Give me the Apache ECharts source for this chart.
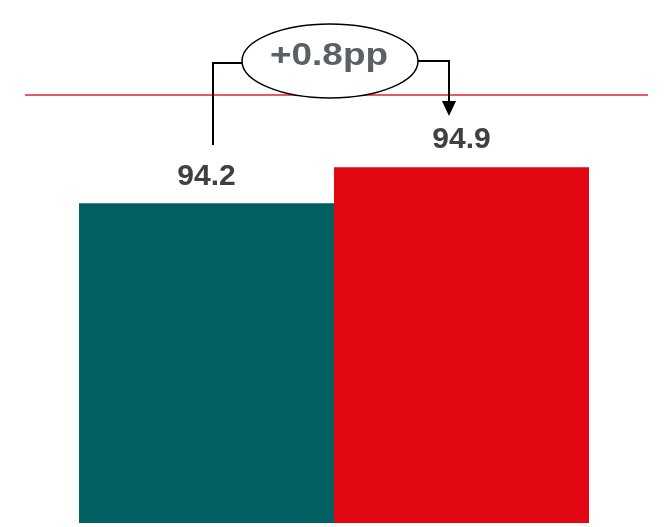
<!DOCTYPE html>
<html>
<head>
<meta charset="utf-8">
<script src="https://cdn.jsdelivr.net/npm/echarts@6/dist/echarts.min.js"></script>
<style>
  html, body { margin: 0; padding: 0; background: #fff; }
  #chart { width: 664px; height: 527px; }
</style>
</head>
<body>
<div id="chart"></div>
<script>
// datos del gráfico
const categories = ["Anterior", "Actual"];
const values = [94.2, 94.9];
const barColors = ["#025f62", "#e30613"];
const targetValue = 96.3;
const deltaText = "+0.8pp";
const yMin = 88;
const yMax = 96.3;

const chart = echarts.init(document.getElementById("chart"));

const option = {
  animation: false,
  grid: { left: 79, right: 75, top: 95, bottom: 4 },
  xAxis: {
    type: "category",
    data: categories,
    axisLine: { show: false },
    axisTick: { show: false },
    axisLabel: { show: false },
  },
  yAxis: {
    type: "value",
    min: yMin,
    max: yMax,
    show: false,
    splitLine: { show: false },
  },
  series: [
    {
      type: "bar",
      barCategoryGap: "0%",
      data: values.map((v, i) => ({ value: v, itemStyle: { color: barColors[i] } })),
      label: {
        show: true,
        position: "top",
        distance: 12,
        fontFamily: "Liberation Sans, Arial, sans-serif",
        fontWeight: "bold",
        fontSize: 30,
        color: "#404040",
        formatter: (p) => p.value.toFixed(1),
      },
    },
  ],
};

chart.setOption(option);

// línea de referencia y anotación
const lineY = chart.convertToPixel({ yAxisIndex: 0 }, targetValue);

chart.setOption({
  graphic: [
    {
      type: "line",
      z: 10,
      shape: { x1: 25, y1: lineY, x2: 648, y2: lineY },
      style: { stroke: "#e3222d", lineWidth: 1.6 },
    },
    {
      type: "polyline",
      z: 11,
      shape: { points: [[213, 145], [213, 63], [244, 63]] },
      style: { stroke: "#000", lineWidth: 2, fill: null },
    },
    {
      type: "polyline",
      z: 11,
      shape: { points: [[418, 61], [449, 61], [449, 104]] },
      style: { stroke: "#000", lineWidth: 2, fill: null },
    },
    {
      type: "polygon",
      z: 11,
      shape: { points: [[442, 101], [456, 101], [449, 116]] },
      style: { fill: "#000" },
    },
    {
      type: "ellipse",
      z: 12,
      shape: { cx: 330, cy: 61, rx: 88, ry: 37 },
      style: { fill: "#fff", stroke: "#000", lineWidth: 1.5 },
    },
    {
      type: "text",
      z: 13,
      x: 329,
      y: 56,
      scaleX: 1.19,
      style: {
        text: deltaText,
        align: "center",
        verticalAlign: "middle",
        fontFamily: "Liberation Sans, Arial, sans-serif",
        fontWeight: "bold",
        fontSize: 31,
        fill: "#5a6064",
      },
    },
  ],
});
</script>
</body>
</html>
